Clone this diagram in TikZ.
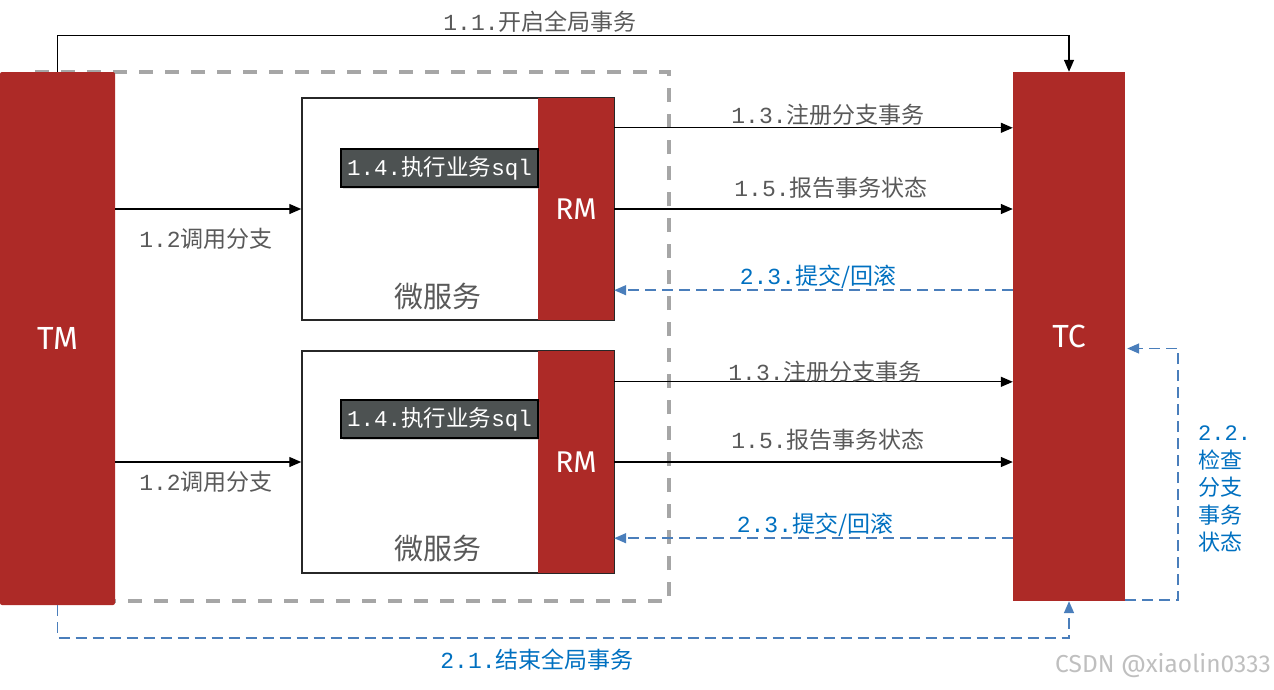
\documentclass[tikz,border=0pt]{standalone}
\usepackage{fontspec}
\setmainfont{Noto Sans CJK SC}
\newfontfamily\mono{Liberation Mono}
\newfontfamily\lat{Fira Sans}
\usetikzlibrary{arrows.meta,calc,shadows}
\definecolor{bred}{HTML}{AD2A27}
\definecolor{tgray}{HTML}{595959}
\definecolor{bline}{HTML}{4A7EBB}
\definecolor{btext}{HTML}{0070C0}
\definecolor{dgray}{HTML}{A6A6A6}
\definecolor{sqlfill}{HTML}{4D5252}
\newcommand\lb[2]{{\mono #1}#2}
\tikzset{
  x=1pt,y=-1pt,
  redbar/.style={fill=bred,draw=none,inner sep=0pt,text=white,font=\lat\fontsize{32}{32}\selectfont},
  msbox/.style={draw=tgray!130,line width=1.5pt,fill=white,inner sep=0pt,minimum width=312pt,minimum height=222pt},
  rmbox/.style={fill=bred,draw=none,inner sep=0pt,minimum width=76pt,minimum height=222pt,text=white,font=\lat\fontsize{30}{30}\selectfont},
  sqlbox/.style={fill=sqlfill,draw=black,line width=1.2pt,inner sep=0pt,minimum width=197pt,minimum height=38pt,text=white,font=\mono\fontsize{22.5}{22.5}\selectfont,drop shadow={shadow xshift=2pt,shadow yshift=-2pt,opacity=0.3}},
  solidarr/.style={line width=1.3pt,-{Triangle[length=12pt,width=10pt]}},
  bluearr/.style={draw=bline,line width=1.6pt,dash pattern=on 11pt off 6pt,-{Triangle[length=12pt,width=10pt]},color=bline},
  glabel/.style={text=tgray,font=\fontsize{23}{23}\selectfont,inner sep=0pt},
  blabel/.style={text=btext,font=\fontsize{23}{23}\selectfont,inner sep=0pt},
}
\begin{document}
\begin{tikzpicture}
\useasboundingbox (0,0) rectangle (1274,689);
% dashed container
\draw[dgray,line width=3.5pt,dash pattern=on 14pt off 12pt] (33,72) rectangle (669,601);
% TM and TC
\node[redbar,rounded corners=2pt,minimum width=115pt,minimum height=533pt] (TM) at (57.5,338.5) {TM};
\node[redbar,minimum width=112pt,minimum height=529pt] (TC) at (1069,336.5) {TC};
% microservices
\node[msbox] (MS1) at (458,209) {};
\node[rmbox] (RM1) at (576,209) {RM};
\node[msbox] (MS2) at (458,462) {};
\node[rmbox] (RM2) at (576,462) {RM};
\node[sqlbox] (SQL1) at (439.5,168) {1.4.{\rmfamily 执行业务}sql};
\node[sqlbox] (SQL2) at (439.5,419) {1.4.{\rmfamily 执行业务}sql};
\node[text=tgray,font=\fontsize{29}{29}\selectfont,inner sep=0pt] (W1) at (438,296) {微服务};
\node[text=tgray,font=\fontsize{29}{29}\selectfont,inner sep=0pt] (W2) at (438,548) {微服务};
% 1.1
\draw[solidarr] (TM.north) -- ++(0,-36) -| (TC.north);
\node[glabel] (L11) at (540,22) {\lb{1.1.}{开启全局事务}};
% 1.2
\draw[solidarr] (TM.east |- RM1) -- (MS1.west |- RM1);
\node[glabel] (L121) at (206,239) {\lb{1.2}{调用分支}};
\draw[solidarr] (TM.east |- RM2) -- (MS2.west |- RM2);
\node[glabel] (L122) at (206,482) {\lb{1.2}{调用分支}};
% box 1 arrows
\coordinate (r13a) at ($(RM1.north east)+(0,30)$);
\draw[solidarr] (r13a) -- (TC.west |- r13a);
\node[glabel] (L131) at (828,115) {\lb{1.3.}{注册分支事务}};
\draw[solidarr] (RM1.east) -- (TC.west |- RM1.east);
\node[glabel] (L151) at (831,188) {\lb{1.5.}{报告事务状态}};
\coordinate (r23a) at ($(RM1.south east)+(0,-30)$);
\draw[bluearr] (TC.west |- r23a) -- (r23a);
\node[blabel] (L231) at (818,277) {\lb{2.3.}{提交/回滚}};
% box 2 arrows
\coordinate (r13b) at ($(RM2.north east)+(0,31)$);
\draw[solidarr] (r13b) -- (TC.west |- r13b);
\node[glabel] (L132) at (825,372) {\lb{1.3.}{注册分支事务}};
\draw[solidarr] (RM2.east) -- (TC.west |- RM2.east);
\node[glabel] (L152) at (828,440) {\lb{1.5.}{报告事务状态}};
\coordinate (r23b) at ($(RM2.south east)+(0,-35)$);
\draw[bluearr] (TC.west |- r23b) -- (r23b);
\node[blabel] (L232) at (815,525) {\lb{2.3.}{提交/回滚}};
% 2.2
\coordinate (c22) at ($(TC.south east)+(0,-1)$);
\draw[bluearr] (c22) -- ++(53,0) |- ($(TC.east)+(2,12)$);
\node[blabel,align=left,anchor=north west,font=\fontsize{22}{27.5}\selectfont] (L22) at (1198,426) {{\mono 2.2.}\\检查\\分支\\事务\\状态};
% 2.1
\draw[bluearr] (TM.south) -- ++(0,33) -| (TC.south);
\node[blabel] (L21) at (537,660) {\lb{2.1.}{结束全局事务}};
% watermark
\node[text=black!25,font=\lat\fontsize{24.5}{24.5}\selectfont,inner sep=0pt] (WM) at (1163,666) {CSDN @xiaolin0333};
\end{tikzpicture}
\end{document}
